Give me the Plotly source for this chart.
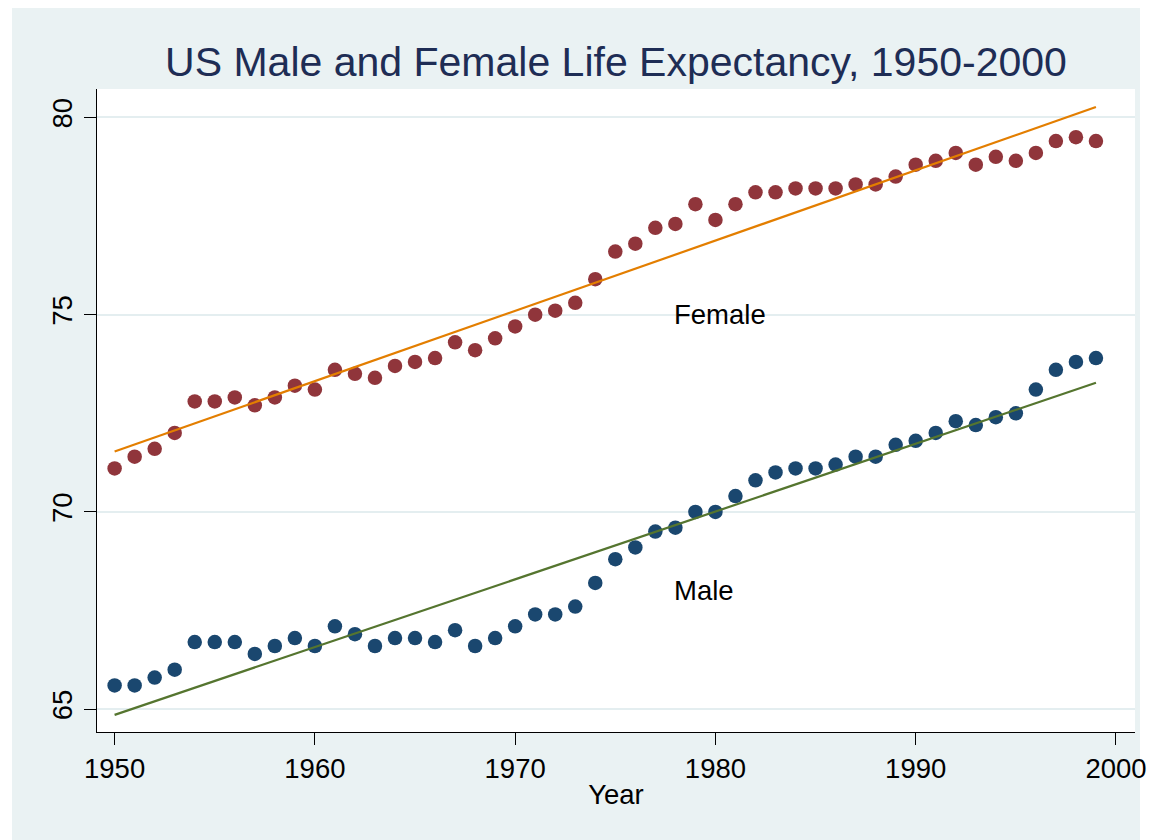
import numpy as np
import plotly.graph_objects as go

# ---- data (US life expectancy at birth, 1950-1999) ----
years = [1950, 1951, 1952, 1953, 1954, 1955, 1956, 1957, 1958, 1959,
         1960, 1961, 1962, 1963, 1964, 1965, 1966, 1967, 1968, 1969,
         1970, 1971, 1972, 1973, 1974, 1975, 1976, 1977, 1978, 1979,
         1980, 1981, 1982, 1983, 1984, 1985, 1986, 1987, 1988, 1989,
         1990, 1991, 1992, 1993, 1994, 1995, 1996, 1997, 1998, 1999]
male = [65.6, 65.6, 65.8, 66.0, 66.7, 66.7, 66.7, 66.4, 66.6, 66.8,
        66.6, 67.1, 66.9, 66.6, 66.8, 66.8, 66.7, 67.0, 66.6, 66.8,
        67.1, 67.4, 67.4, 67.6, 68.2, 68.8, 69.1, 69.5, 69.6, 70.0,
        70.0, 70.4, 70.8, 71.0, 71.1, 71.1, 71.2, 71.4, 71.4, 71.7,
        71.8, 72.0, 72.3, 72.2, 72.4, 72.5, 73.1, 73.6, 73.8, 73.9]
female = [71.1, 71.4, 71.6, 72.0, 72.8, 72.8, 72.9, 72.7, 72.9, 73.2,
          73.1, 73.6, 73.5, 73.4, 73.7, 73.8, 73.9, 74.3, 74.1, 74.4,
          74.7, 75.0, 75.1, 75.3, 75.9, 76.6, 76.8, 77.2, 77.3, 77.8,
          77.4, 77.8, 78.1, 78.1, 78.2, 78.2, 78.2, 78.3, 78.3, 78.5,
          78.8, 78.9, 79.1, 78.8, 79.0, 78.9, 79.1, 79.4, 79.5, 79.4]
x_ticks = [1950, 1960, 1970, 1980, 1990, 2000]
y_ticks = [65, 70, 75, 80]
title_text = "US Male and Female Life Expectancy, 1950-2000"
x_title = "Year"
labels = [("Female", 1978, 75), ("Male", 1978, 68)]

# linear fits (as Stata lfit)
yr = np.array(years, dtype=float)
m_coef = np.polyfit(yr, np.array(male), 1)
f_coef = np.polyfit(yr, np.array(female), 1)
male_fit = np.polyval(m_coef, yr)
female_fit = np.polyval(f_coef, yr)

# ---- styling ----
BG = "#EAF2F3"
GRID = "#E4EEF0"
NAVY = "#1A476F"
MAROON = "#90353B"
GREEN = "#55752F"
ORANGE = "#E37E00"
FONT = "Liberation Sans, Arial, Helvetica, sans-serif"

W, H = 1150, 840
ML, MR, MT, MB = 97, 15, 89, 108
PW, PH = W - ML - MR, H - MT - MB

fig = go.Figure()
fig.add_trace(go.Scatter(x=years, y=male, mode="markers", name="Male",
                         marker=dict(color=NAVY, size=14.5, line=dict(width=0))))
fig.add_trace(go.Scatter(x=years, y=female, mode="markers", name="Female",
                         marker=dict(color=MAROON, size=14.5, line=dict(width=0))))
fig.add_trace(go.Scatter(x=years, y=male_fit, mode="lines", name="Male fit",
                         line=dict(color=GREEN, width=2.2)))
fig.add_trace(go.Scatter(x=years, y=female_fit, mode="lines", name="Female fit",
                         line=dict(color=ORANGE, width=2.2)))

for txt, xv, yv in labels:
    fig.add_annotation(x=xv, y=yv, text=txt, showarrow=False,
                       xanchor="left", yanchor="middle", xshift=-3,
                       font=dict(family=FONT, size=27.5, color="black"))

def px_to_paper_x(px):
    return (px - ML) / PW

def py_to_paper_y(py):
    return (H - MB - py) / PH

shapes = [
    # thin white border strips around the light graph region
    dict(type="rect", xref="paper", yref="paper", layer="below",
         x0=px_to_paper_x(-5), x1=px_to_paper_x(12),
         y0=py_to_paper_y(845), y1=py_to_paper_y(-5),
         fillcolor="white", line=dict(width=0)),
    dict(type="rect", xref="paper", yref="paper", layer="below",
         x0=px_to_paper_x(1140), x1=px_to_paper_x(1155),
         y0=py_to_paper_y(845), y1=py_to_paper_y(-5),
         fillcolor="white", line=dict(width=0)),
    dict(type="rect", xref="paper", yref="paper", layer="below",
         x0=px_to_paper_x(-5), x1=px_to_paper_x(1155),
         y0=py_to_paper_y(8), y1=py_to_paper_y(-5),
         fillcolor="white", line=dict(width=0)),
]

fig.update_layout(
    width=W, height=H,
    margin=dict(l=ML, r=MR, t=MT, b=MB, pad=0),
    paper_bgcolor=BG, plot_bgcolor="white",
    showlegend=False,
    font=dict(family=FONT, color="black", size=27.5),
    title=dict(text=title_text, x=0.5, xref="paper", xanchor="center",
               y=1 - 62 / H, yref="container", yanchor="middle",
               font=dict(family=FONT, size=41, color="#1E2D55")),
    shapes=shapes,
    xaxis=dict(range=[1949.12, 2000.95], tickvals=x_ticks,
               showgrid=False, zeroline=False,
               showline=True, linecolor="black", linewidth=1,
               ticks="outside", ticklen=12, tickwidth=1, tickcolor="black",
               tickfont=dict(family=FONT, size=27.5, color="black"),
               ticklabelstandoff=0,
               title=dict(text=x_title, standoff=1,
                          font=dict(family=FONT, size=27.5, color="black")),
               automargin=False),
    yaxis=dict(range=[64.42, 80.72], tickvals=y_ticks,
               showgrid=True, gridcolor=GRID, gridwidth=2,
               zeroline=False,
               showline=True, linecolor="black", linewidth=1,
               ticks="outside", ticklen=12, tickwidth=1, tickcolor="black",
               tickangle=-90,
               tickfont=dict(family=FONT, size=27.5, color="black"),
               ticklabelstandoff=1,
               automargin=False),
)

fig.write_html("out.html", config={"displayModeBar": False},
               post_script="document.body.style.margin='0';")
